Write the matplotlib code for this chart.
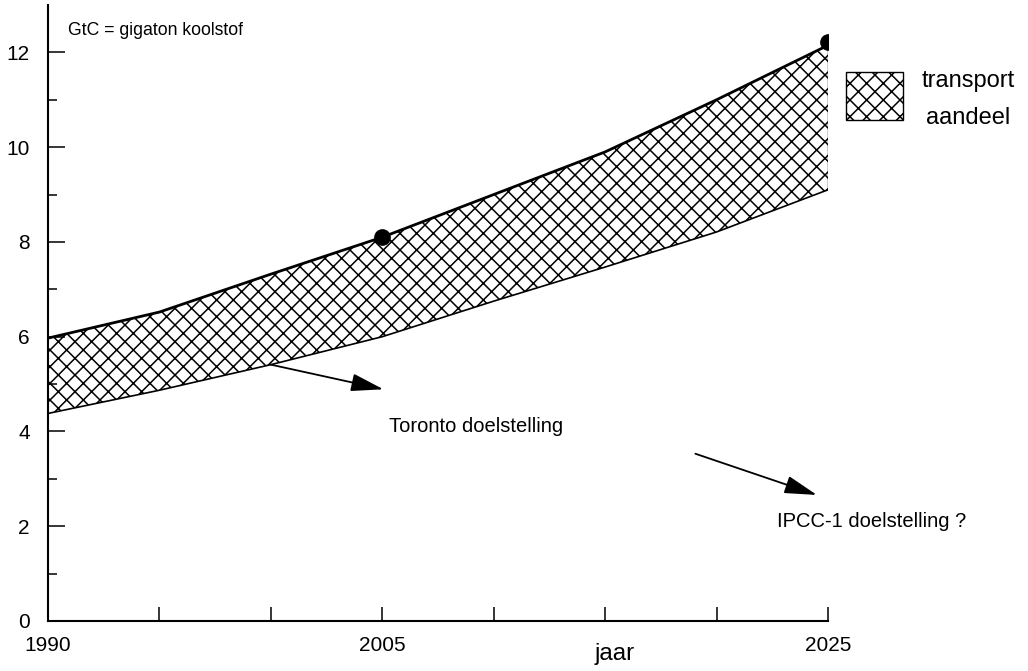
import matplotlib
matplotlib.use("Agg")
import matplotlib.pyplot as plt
from matplotlib.patches import Rectangle

plt.rcParams['font.family'] = ['Liberation Sans', 'DejaVu Sans']
plt.rcParams['hatch.linewidth'] = 1.1

# ---- data ----
years = [1990, 1995, 2000, 2005, 2010, 2015, 2020, 2025]
upper = [5.97, 6.52, 7.32, 8.10, 9.00, 9.90, 11.00, 12.15]   # total emissions (GtC)
lower = [4.38, 4.87, 5.41, 6.00, 6.75, 7.47, 8.21, 9.10]     # without transport share
dot_years = [2005, 2025]
dot_values = [8.10, 12.22]
y_major = [0, 2, 4, 6, 8, 10, 12]
y_minor = [1, 3, 5, 7, 9, 11]
x_ticks = [1990, 1995, 2000, 2005, 2010, 2015, 2020, 2025]
x_ticklabels = ['1990', '', '', '2005', '', '', '', '2025']

fig = plt.figure(figsize=(10.28, 6.71), dpi=100)
ax = fig.add_axes([48/1028, 1-621/671, 780/1028, 616/671])

ax.fill_between(years, lower, upper, facecolor='white', edgecolor='black',
                hatch='xx', linewidth=0)
ax.plot(years, upper, color='black', lw=2.0, solid_capstyle='butt')
ax.plot(years, lower, color='black', lw=1.2)
ax.vlines(years[-1], lower[-1], upper[-1], color='black', lw=1.0)
ax.plot(dot_years, dot_values, 'o', color='black', markersize=11, zorder=5)

ax.set_xlim(1990, 2025)
ax.set_ylim(0, 13)
for s in ['top', 'right']:
    ax.spines[s].set_visible(False)
for s in ['left', 'bottom']:
    ax.spines[s].set_linewidth(1.5)

ax.set_yticks(y_major)
ax.set_yticks(y_minor, minor=True)
ax.set_xticks(x_ticks)
ax.set_xticklabels(x_ticklabels)
ax.tick_params(axis='y', which='major', direction='in', length=12, width=1.1,
               pad=13, labelsize=15)
ax.tick_params(axis='y', which='minor', direction='in', length=6.5, width=1.1)
ax.tick_params(axis='x', which='major', direction='in', length=10, width=1.1,
               pad=10.5, labelsize=15)

ax.set_xlabel('jaar', fontsize=17.5)
ax.xaxis.set_label_coords(567/780, -0.036)

ax.text(1990.9, 12.37, 'GtC = gigaton koolstof', fontsize=12.7, va='baseline', ha='left')
ax.text(2005.3, 3.98, 'Toronto doelstelling', fontsize=14.5, va='baseline', ha='left')
ax.text(2022.7, 1.99, 'IPCC-1 doelstelling ?', fontsize=14.5, va='baseline', ha='left')

arrow = dict(arrowstyle='-|>,head_length=0.8,head_width=0.22', color='black',
             lw=1.3, mutation_scale=25, shrinkA=0, shrinkB=0)
ax.annotate('', xy=(2005.05, 4.89), xytext=(2000.0, 5.41), arrowprops=arrow)
ax.annotate('', xy=(2024.5, 2.66), xytext=(2019.05, 3.53), arrowprops=arrow)

# legend key
fig.add_artist(Rectangle((846/1028, 1-120/671), 57/1028, 48/671,
                         transform=fig.transFigure, facecolor='white',
                         edgecolor='black', hatch='xx', lw=1.0))
fig.text(922/1028, 1-87.5/671, 'transport', fontsize=17, va='baseline', ha='left')
fig.text(926/1028, 1-123.5/671, 'aandeel', fontsize=17, va='baseline', ha='left')

fig.savefig('out.png', dpi=100)
